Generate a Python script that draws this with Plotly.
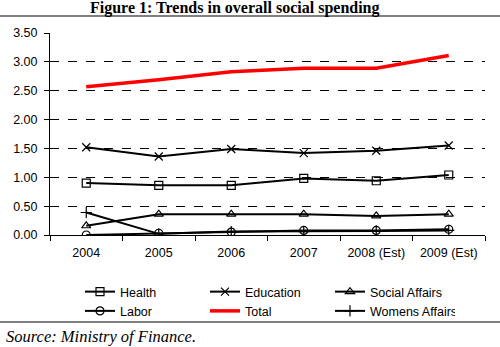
import plotly.graph_objects as go

years = ["2004", "2005", "2006", "2007", "2008 (Est)", "2009 (Est)"]
health = [0.90, 0.86, 0.86, 0.98, 0.94, 1.04]
education = [1.52, 1.36, 1.49, 1.42, 1.46, 1.55]
social_affairs = [0.16, 0.36, 0.36, 0.36, 0.33, 0.36]
labor = [0.00, 0.03, 0.05, 0.08, 0.08, 0.10]
total = [2.57, 2.69, 2.83, 2.89, 2.89, 3.11]
womens_affairs = [0.39, 0.02, 0.06, 0.06, 0.07, 0.08]
y_ticks = [0, 0.5, 1.0, 1.5, 2.0, 2.5, 3.0, 3.5]
y_tick_labels = ["0.00", "0.50", "1.00", "1.50", "2.00", "2.50", "3.00", "3.50"]

L, R, T, B = 50, 15, 33, 112
W, H = 500, 347
pw, ph = W - L - R, H - T - B

def px_x(x):
    return (x - L) / pw

def px_y(y):
    return (H - B - y) / ph

fig = go.Figure()
series = [
    ("Health", health, "square-open", "black", 2),
    ("Education", education, "x-thin-open", "black", 2),
    ("Social Affairs", social_affairs, "triangle-up-open", "black", 2),
    ("Labor", labor, "circle-open", "black", 2),
    ("Total", total, None, "red", 3.5),
    ("Womens Affairs", womens_affairs, "cross-thin-open", "black", 2),
]
for name, vals, sym, col, w in series:
    if sym:
        fig.add_trace(go.Scatter(
            x=years, y=vals, name=name, mode="lines+markers",
            line=dict(color=col, width=w),
            marker=dict(symbol=sym, size=8, color=col, line=dict(color=col, width=1.2)),
        ))
    else:
        fig.add_trace(go.Scatter(
            x=years, y=vals, name=name, mode="lines",
            line=dict(color=col, width=w),
        ))

font_sans = "Liberation Sans, Arial, sans-serif"
font_serif = "Liberation Serif, Times New Roman, serif"

fig.update_layout(
    width=W, height=H,
    margin=dict(l=L, r=R, t=T, b=B, pad=0),
    paper_bgcolor="white", plot_bgcolor="white",
    font=dict(family=font_sans, size=12.5, color="black"),
    showlegend=True,
    legend=dict(
        orientation="h", x=px_x(80), y=px_y(277), xanchor="left", yanchor="top",
        entrywidth=80, entrywidthmode="pixels", itemwidth=30,
        font=dict(family=font_sans, size=12.5, color="black"),
        tracegroupgap=0, bgcolor="rgba(0,0,0,0)",
    ),
    xaxis=dict(
        type="category", showline=True, linecolor="black", linewidth=1,
        ticks="outside", tickson="boundaries", ticklen=5, tickcolor="black",
        showgrid=False, zeroline=False, range=[-0.5, 5.5],
        ticklabelstandoff=6,
        tickfont=dict(family=font_sans, size=12.5, color="black"),
    ),
    yaxis=dict(
        range=[0, 3.5], tickvals=y_ticks, ticktext=y_tick_labels,
        showline=True, linecolor="black", linewidth=1,
        ticks="outside", ticklen=5, tickcolor="black",
        showgrid=True, gridcolor="black", griddash="dash", gridwidth=1,
        zeroline=False, ticklabelstandoff=4,
        tickfont=dict(family=font_sans, size=12.5, color="black"),
    ),
    shapes=[
        dict(type="line", xref="paper", yref="paper", x0=px_x(0), x1=px_x(500),
             y0=px_y(16), y1=px_y(16), line=dict(color="black", width=1)),
        dict(type="line", xref="paper", yref="paper", x0=px_x(0), x1=px_x(500),
             y0=px_y(322), y1=px_y(322), line=dict(color="black", width=1)),
    ],
    annotations=[
        dict(text="<b>Figure 1: Trends in overall social spending</b>", xref="paper", yref="paper",
             x=px_x(235), y=px_y(8), xanchor="center", yanchor="middle", showarrow=False,
             font=dict(family=font_serif, size=16, color="black")),
        dict(text="<i>Source: Ministry of Finance.</i>", xref="paper", yref="paper",
             x=px_x(4), y=px_y(336), xanchor="left", yanchor="middle", showarrow=False,
             font=dict(family=font_serif, size=16.5, color="black")),
    ],
)

fig.write_html("out.html")
